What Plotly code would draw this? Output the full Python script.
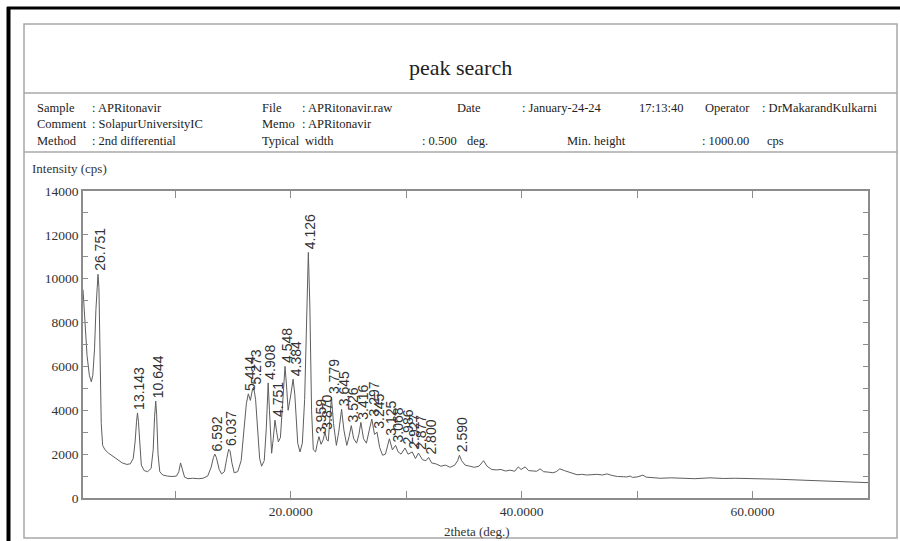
import plotly.graph_objects as go

# ---------------- data ----------------
two_theta = [
    2.00, 2.15, 2.35, 2.55, 2.72, 2.85, 3.00, 3.12, 3.22, 3.30, 3.38, 3.48, 3.58, 3.70, 3.90,
    4.20, 4.60, 5.00, 5.40, 5.80, 6.10, 6.35, 6.52, 6.64, 6.72, 6.80, 6.92, 7.05, 7.30, 7.60,
    7.90, 8.08, 8.20, 8.30, 8.38, 8.50, 8.65, 8.90, 9.30, 9.70, 10.10, 10.30, 10.45, 10.60, 10.80,
    11.10, 11.50, 12.00, 12.40, 12.80, 13.10, 13.30, 13.42, 13.55, 13.80, 14.00, 14.25, 14.45, 14.62, 14.74,
    14.90, 15.10, 15.40, 15.70, 15.95, 16.15, 16.32, 16.50, 16.68, 16.78, 16.95, 17.15, 17.30, 17.47, 17.70,
    17.88, 17.98, 18.04, 18.15, 18.34, 18.48, 18.63, 18.78, 18.92, 19.10, 19.30, 19.50, 19.62, 19.77, 20.00,
    20.20, 20.35, 20.60, 20.80, 21.00, 21.20, 21.38, 21.52, 21.65, 21.80, 21.95, 22.15, 22.30, 22.44, 22.62,
    22.80, 22.96, 23.12, 23.25, 23.40, 23.52, 23.70, 23.95, 24.15, 24.40, 24.60, 24.85, 25.05, 25.24, 25.45,
    25.70, 25.90, 26.07, 26.30, 26.55, 26.80, 27.02, 27.25, 27.47, 27.70, 27.95, 28.20, 28.35, 28.54, 28.80,
    29.08, 29.30, 29.55, 29.90, 30.15, 30.52, 30.80, 31.06, 31.40, 31.70, 31.94, 32.20, 32.60, 33.00, 33.40,
    33.80, 34.20, 34.45, 34.61, 34.80, 35.10, 35.50, 35.90, 36.30, 36.70, 37.00, 37.40, 37.80, 38.20, 38.60,
    39.00, 39.40, 39.70, 39.95, 40.30, 40.60, 41.00, 41.30, 41.60, 41.90, 42.30, 42.70, 43.00, 43.30, 43.70,
    44.10, 44.50, 44.80, 45.20, 45.60, 46.00, 46.50, 47.00, 47.40, 47.80, 48.30, 48.80, 49.10, 49.40, 49.60,
    50.00, 50.50, 50.80, 51.30, 52.00, 53.00, 54.00, 55.00, 56.30, 57.50, 58.50, 59.10, 60.00, 61.00, 62.00,
    63.00, 64.10, 65.00, 66.00, 67.00, 68.00, 69.00, 70.00,
]
intensity = [
    9500, 8200, 6500, 5600, 5300, 5600, 6800, 8600, 9900, 10200, 9600, 6500, 3400, 2400, 2200,
    2050, 1900, 1750, 1600, 1530, 1560, 1800, 2600, 3500, 3880, 3500, 2300, 1500, 1250, 1200,
    1350, 2200, 3700, 4420, 3800, 2000, 1200, 1050, 1000, 980, 1000, 1200, 1600, 1350, 950,
    880, 900, 880, 900, 1000, 1400, 1850, 2000, 1850, 1300, 1100, 1200, 1800, 2220, 2150,
    1600, 1150, 1200, 1700, 3200, 4300, 4750, 4450, 4950, 5060, 4500, 2800, 1800, 1450, 1700,
    3200, 4800, 5250, 4000, 2040, 2700, 3550, 3000, 2560, 2750, 4200, 6000, 5200, 4000, 4700,
    5420, 4700, 2500, 2100, 2500, 4500, 8500, 11200, 8800, 4000, 2200, 2100, 2500, 2800, 2450,
    2650, 3000, 2650, 2600, 3800, 4600, 3400, 2400, 3000, 4050, 3100, 2400, 2800, 3300, 2700,
    2500, 2900, 3450, 2700, 2500, 3100, 3600, 2900, 3000, 2300, 1950, 2000, 2300, 2700, 2200,
    2400, 2100, 2000, 2280, 2000, 2100, 1800, 2050, 1750, 1700, 1850, 1600, 1550, 1450, 1500,
    1400, 1500, 1700, 1950, 1700, 1500, 1450, 1400, 1450, 1700, 1450, 1300, 1280, 1300, 1230,
    1270, 1220, 1420, 1300, 1420, 1250, 1250, 1220, 1330, 1200, 1180, 1150, 1200, 1330, 1250,
    1180, 1100, 1060, 1080, 1050, 1060, 1080, 1050, 1100, 1030, 980, 970, 960, 1000, 940,
    960, 1040, 950, 930, 900, 920, 900, 880, 920, 890, 900, 900, 880, 870, 860,
    840, 820, 810, 800, 790, 760, 740, 700,
]

peak_pos = [3.30, 6.72, 8.30, 13.42, 14.66, 16.34, 16.80, 18.06, 18.66, 19.50, 20.24, 21.52,
            22.44, 22.96, 23.52, 24.40, 25.24, 26.07, 27.02, 27.47, 28.54, 29.08, 29.90, 30.52,
            31.06, 31.94, 34.61]
peak_int = [10200, 3880, 4420, 2000, 2220, 4750, 5060, 5250, 3550, 6000, 5420, 11200,
            2800, 3000, 4600, 4050, 3300, 3450, 3600, 3000, 2700, 2400, 2280, 2100,
            2050, 1850, 1950]
peak_lab = ["26.751", "13.143", "10.644", "6.592", "6.037", "5.414", "5.273", "4.908", "4.751",
            "4.548", "4.384", "4.126", "3.959", "3.870", "3.779", "3.645", "3.526", "3.416",
            "3.297", "3.245", "3.125", "3.068", "2.986", "2.927", "2.877", "2.800", "2.590"]

x_tickvals = [10, 20, 30, 40, 50, 60]
x_ticktext = ["", "20.0000", "", "40.0000", "", "60.0000"]
y_tickvals = list(range(0, 14001, 1000))
y_ticktext = [str(v) if v % 2000 == 0 else "" for v in y_tickvals]

header_rows = [
    [("Sample", 35), (": APRitonavir", 90), ("File", 260), (": APRitonavir.raw", 300),
     ("Date", 455), (": January-24-24", 520), ("17:13:40", 637), ("Operator", 703),
     (": DrMakarandKulkarni", 760)],
    [("Comment", 35), (": SolapurUniversityIC", 90), ("Memo", 260), (": APRitonavir", 300)],
    [("Method", 35), (": 2nd differential", 90), ("Typical", 260), ("width", 303),
     (": 0.500", 420), ("deg.", 465), ("Min.", 565), ("height", 592),
     (": 1000.00", 700), ("cps", 765)],
]
row_y = [108, 124, 141]

# ---------------- geometry helpers ----------------
W, H = 900, 541
L, R, T, B = 83, 32, 191, 43
PW, PH = W - L - R, H - T - B


def px(x):
    return (x - L) / PW


def py(y):
    return (H - B - y) / PH


SERIF = "Liberation Serif, Times New Roman, serif"
SANS = "Liberation Sans, Arial, sans-serif"

fig = go.Figure()
fig.add_trace(go.Scatter(x=two_theta, y=intensity, mode="lines",
                         line=dict(color="#5e5e5e", width=1), hoverinfo="skip",
                         showlegend=False))

annotations = []
for xp, yp, lab in zip(peak_pos, peak_int, peak_lab):
    annotations.append(dict(x=xp, y=yp, xref="x", yref="y", text=lab, showarrow=False,
                            textangle=-90, xanchor="center", yanchor="bottom", xshift=2,
                            yshift=1, font=dict(family=SANS, size=14, color="#333")))

annotations.append(dict(x=px(460), y=py(67), xref="paper", yref="paper", text="peak search",
                        showarrow=False, xanchor="center", yanchor="middle",
                        font=dict(family=SERIF, size=22, color="#222")))
for row, yy in zip(header_rows, row_y):
    for txt, xx in row:
        annotations.append(dict(x=px(xx), y=py(yy), xref="paper", yref="paper", text=txt,
                                showarrow=False, xanchor="left", yanchor="middle",
                                font=dict(family=SERIF, size=12.5, color="#222")))
annotations.append(dict(x=px(30), y=py(168), xref="paper", yref="paper",
                        text="Intensity (cps)", showarrow=False, xanchor="left",
                        yanchor="middle", font=dict(family=SERIF, size=13, color="#333")))
annotations.append(dict(x=px(477), y=py(531), xref="paper", yref="paper",
                        text="2theta (deg.)", showarrow=False, xanchor="center",
                        yanchor="middle", font=dict(family=SERIF, size=13, color="#333")))

gray = "#a8a8a8"
shapes = [
    # outer black border (top / left)
    dict(type="line", xref="paper", yref="paper", x0=px(7), x1=px(900), y0=py(8), y1=py(8),
         line=dict(color="black", width=3)),
    dict(type="line", xref="paper", yref="paper", x0=px(8.5), x1=px(8.5), y0=py(7), y1=py(541),
         line=dict(color="black", width=4)),
    # inner gray frame
    dict(type="rect", xref="paper", yref="paper", x0=px(24), x1=px(897), y0=py(24), y1=py(538),
         line=dict(color=gray, width=1.5)),
    dict(type="line", xref="paper", yref="paper", x0=px(24), x1=px(897), y0=py(93), y1=py(93),
         line=dict(color=gray, width=1.5)),
    dict(type="line", xref="paper", yref="paper", x0=px(24), x1=px(897), y0=py(152), y1=py(152),
         line=dict(color=gray, width=1.5)),
]

axis_col = "#8c8c8c"
fig.update_layout(
    width=W, height=H,
    margin=dict(l=L, r=R, t=T, b=B, pad=0),
    paper_bgcolor="white", plot_bgcolor="white",
    showlegend=False,
    xaxis=dict(range=[2, 70], tickmode="array", tickvals=x_tickvals, ticktext=x_ticktext,
               ticks="inside", ticklen=7, tickcolor=axis_col, showline=True,
               linecolor=axis_col, linewidth=1.5, mirror="ticks", showgrid=False,
               zeroline=False, tickfont=dict(family=SERIF, size=13.5, color="#333")),
    yaxis=dict(range=[0, 14000], tickmode="array", tickvals=y_tickvals, ticktext=y_ticktext,
               ticks="inside", ticklen=5, tickcolor=axis_col, showline=True,
               linecolor=axis_col, linewidth=1.5, mirror="ticks", showgrid=False,
               zeroline=False, tickfont=dict(family=SERIF, size=13.5, color="#333")),
    annotations=annotations,
    shapes=shapes,
)

fig.write_html("out.html")
